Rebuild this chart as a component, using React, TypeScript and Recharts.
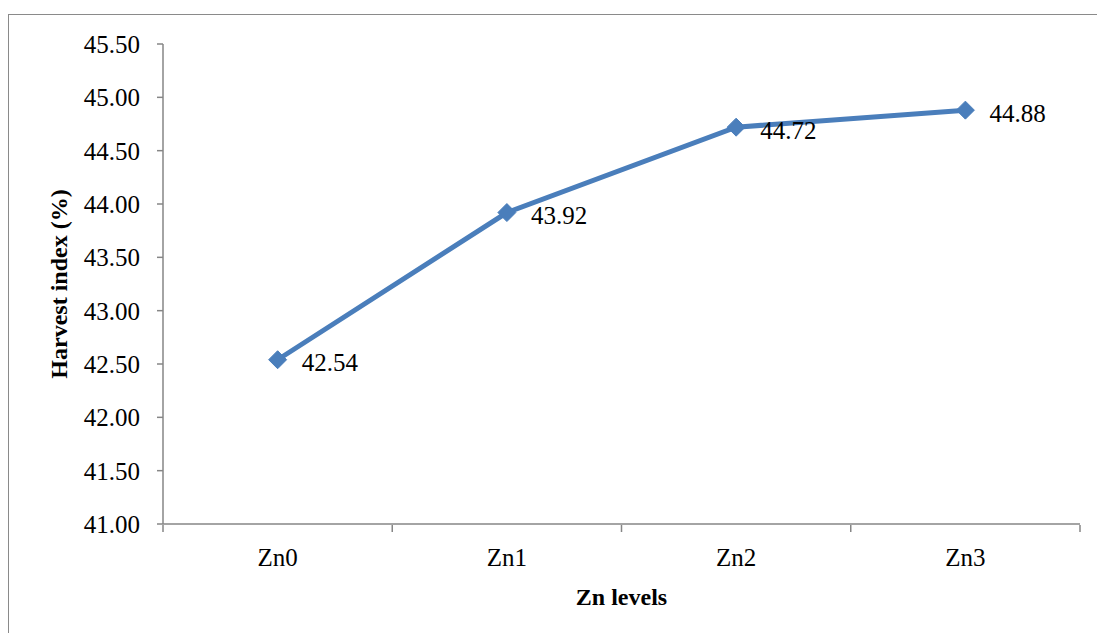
import { LineChart, Line, XAxis, YAxis, LabelList, Label } from "recharts";

const levels = ["Zn0", "Zn1", "Zn2", "Zn3"];
const harvestIndex = [42.54, 43.92, 44.72, 44.88];
const yTicks = [41, 41.5, 42, 42.5, 43, 43.5, 44, 44.5, 45, 45.5];

const data = levels.map((level, i) => ({ level, value: harvestIndex[i] }));

const FONT = "Liberation Serif, Times New Roman, serif";
const AXIS = "#868686";
const BLUE = "#4a7ebb";

const PLOT_LEFT = 163;
const PLOT_RIGHT = 1080;
const BAND = (PLOT_RIGHT - PLOT_LEFT) / levels.length;

const Diamond = (props: any) => {
    const { cx, cy } = props;
    if (cx == null || cy == null) return null;
    const r = 9;
    return (
        <polygon
            points={`${cx},${cy - r} ${cx + r},${cy} ${cx},${cy + r} ${cx - r},${cy}`}
            fill={BLUE}
            stroke={BLUE}
        />
    );
};

const XTick = (props: any) => {
    const { x, y, payload, index } = props;
    return (
        <g>
            <line x1={x - BAND / 2} y1={y - 7} x2={x - BAND / 2} y2={y} stroke={AXIS} strokeWidth={1.5} />
            {index === levels.length - 1 && (
                <line x1={x + BAND / 2} y1={y - 7} x2={x + BAND / 2} y2={y} stroke={AXIS} strokeWidth={1.5} />
            )}
            <text x={x} y={y + 34} textAnchor="middle" style={{ fontFamily: FONT, fontSize: 25 }} fill="#000">
                {payload.value}
            </text>
        </g>
    );
};

const ValueLabel = (props: any) => {
    const { x, y, value } = props;
    return (
        <text x={x + 24} y={y + 3} dominantBaseline="central" style={{ fontFamily: FONT, fontSize: 25 }} fill="#000">
            {Number(value).toFixed(2)}
        </text>
    );
};

export default function App() {
    return (
        <div style={{ position: "absolute", left: 0, top: 0, width: 1097, height: 633, overflow: "hidden", background: "#fff", fontFamily: FONT }}>
            <div style={{ position: "absolute", left: 8, top: 14, width: 1200, height: 700, border: "1.5px solid #8a8a8a" }} />
            <LineChart
                width={1097}
                height={633}
                data={data}
                margin={{ top: 44, right: 1097 - PLOT_RIGHT, bottom: 79, left: 0 }}
                style={{ position: "absolute", left: 0, top: 0, fontFamily: FONT }}>
                <XAxis
                    dataKey="level"
                    scale="band"
                    height={30}
                    axisLine={{ stroke: AXIS, strokeWidth: 1.5 }}
                    tickLine={false}
                    tick={<XTick />}
                    interval={0}>
                    <Label
                        value="Zn levels"
                        position="bottom"
                        offset={34}
                        style={{ fontFamily: FONT, fontSize: 24, fontWeight: "bold", fill: "#000" }} />
                </XAxis>
                <YAxis
                    width={PLOT_LEFT}
                    domain={[41, 45.5]}
                    ticks={yTicks}
                    interval={0}
                    tickFormatter={(v: number) => v.toFixed(2)}
                    tickSize={6}
                    tickMargin={17}
                    axisLine={{ stroke: AXIS, strokeWidth: 1.5 }}
                    tickLine={{ stroke: AXIS, strokeWidth: 1.5 }}
                    tick={{ style: { fontFamily: FONT, fontSize: 25 }, fill: "#000" }}>
                    <Label
                        value="Harvest index (%)"
                        angle={-90}
                        position="insideLeft"
                        offset={58}
                        style={{ fontFamily: FONT, fontSize: 24, fontWeight: "bold", fill: "#000", textAnchor: "middle" }} />
                </YAxis>
                <Line
                    type="linear"
                    dataKey="value"
                    stroke={BLUE}
                    strokeWidth={5}
                    dot={<Diamond />}
                    activeDot={false}
                    isAnimationActive={false}>
                    <LabelList dataKey="value" content={<ValueLabel />} />
                </Line>
            </LineChart>
        </div>
    );
}
